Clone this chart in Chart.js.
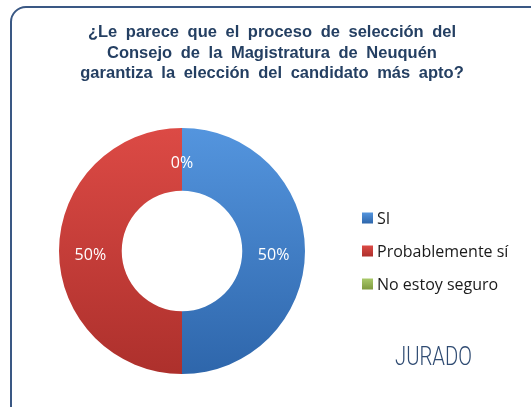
<!DOCTYPE html>
<html>
<head>
<meta charset="utf-8">
<script src="https://cdn.jsdelivr.net/npm/chart.js@4"></script>
<style>
  body { margin: 0; background: #fff; overflow: hidden; }
  #wrap { position: relative; width: 531px; height: 407px; overflow: hidden; }
  #frame { position: absolute; left: 10px; top: 6px; width: 540px; height: 420px; border: 2px solid #3a5884; border-radius: 16px; box-sizing: border-box; }
  #title { position: absolute; left: 0; top: 21px; width: 544px; text-align: center; font: bold 16.5px 'Liberation Sans', Arial, sans-serif; line-height: 20.5px; color: #243f62; word-spacing: 4px; }
  #tag { position: absolute; left: 395px; top: 344px; font: 300 25px Roboto, sans-serif; line-height: 25px; color: #2f4b72; transform: scaleX(0.81); transform-origin: left top; }
  canvas { position: absolute; left: 0; top: 0; }
</style>
</head>
<body>
<div id="wrap">
  <div id="frame"></div>
  <canvas id="donut" width="531" height="407"></canvas>
  <div id="title">¿Le parece que el proceso de selección del<br>Consejo de la Magistratura de Neuquén<br>garantiza la elección del candidato más apto?</div>
  <div id="tag">JURADO</div>
</div>
<script>
const labels = ['SI', 'Probablemente sí', 'No estoy seguro'];
const values = [50, 50, 0];
// top / bottom colours of each slice gradient
const topColors = ['#5495de', '#dc4a45', '#a9c96a'];
const bottomColors = ['#2e66ab', '#ad302c', '#7f9a3f'];

const sliceFill = (ctx) => {
    const chart = ctx.chart;
    const area = chart.chartArea;
    const i = ctx.dataIndex;
    if (!area) return topColors[i];
    const g = chart.ctx.createLinearGradient(0, area.top, 0, area.bottom);
    g.addColorStop(0, topColors[i]);
    g.addColorStop(1, bottomColors[i]);
    return g;
};

const labelPlugin = {
    id: 'sliceLabels',
    afterDatasetsDraw(chart) {
        const ctx = chart.ctx;
        const meta = chart.getDatasetMeta(0);
        ctx.save();
        ctx.font = "16px 'Open Sans', sans-serif";
        ctx.fillStyle = '#ffffff';
        ctx.textAlign = 'center';
        ctx.textBaseline = 'middle';
        meta.data.forEach((arc, i) => {
            const p = arc.tooltipPosition();
            ctx.fillText(values[i] + '%', p.x, p.y + 4);
        });
        ctx.restore();
    }
};

const legendPlugin = {
    id: 'sideLegend',
    afterDraw(chart) {
        const ctx = chart.ctx;
        ctx.save();
        ctx.font = "16px 'Open Sans', sans-serif";
        ctx.textBaseline = 'middle';
        labels.forEach((name, i) => {
            const y = 218 + i * 33;
            const g = ctx.createLinearGradient(0, y - 5.5, 0, y + 5.5);
            g.addColorStop(0, topColors[i]);
            g.addColorStop(1, bottomColors[i]);
            ctx.fillStyle = g;
            ctx.fillRect(362, y - 5.5, 11, 11);
            ctx.fillStyle = '#1a1a1a';
            ctx.fillText(name, 377, y + 1);
        });
        ctx.restore();
    }
};

new Chart(document.getElementById('donut'), {
    type: 'doughnut',
    data: {
        labels,
        datasets: [{
            data: values,
            backgroundColor: sliceFill,
            borderWidth: 0,
        }]
    },
    options: {
        responsive: false,
        animation: false,
        cutout: '49%',
        layout: { padding: { left: 59, right: 226, top: 128, bottom: 33 } },
        plugins: {
            legend: { display: false },
            tooltip: { enabled: false },
        }
    },
    plugins: [labelPlugin, legendPlugin]
});
</script>
</body>
</html>
